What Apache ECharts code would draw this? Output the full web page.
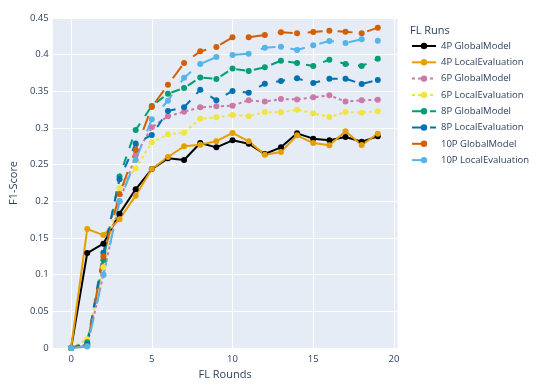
<!DOCTYPE html>
<html>
<head>
<meta charset="utf-8">
<script src="https://cdn.jsdelivr.net/npm/echarts@6/dist/echarts.min.js"></script>
<style>
html,body{margin:0;padding:0;background:#fff;}
#chart{width:540px;height:386px;}
</style>
</head>
<body>
<div id="chart"></div>
<script>
var rounds = [0,1,2,3,4,5,6,7,8,9,10,11,12,13,14,15,16,17,18,19];
var xTicks = [0,5,10,15,20];
var yTicks = [0,0.05,0.1,0.15,0.2,0.25,0.3,0.35,0.4,0.45];

var g4 = [0, 0.1295, 0.1423, 0.1832, 0.2164, 0.244, 0.2586, 0.2564, 0.2795, 0.2736, 0.2832, 0.2786, 0.2645, 0.2736, 0.2927, 0.2855, 0.2832, 0.2877, 0.2814, 0.2886];
var l4 = [0, 0.1623, 0.154, 0.1755, 0.2077, 0.244, 0.2605, 0.275, 0.2773, 0.282, 0.2932, 0.2818, 0.2636, 0.2673, 0.29, 0.2795, 0.2764, 0.2955, 0.2768, 0.2923];
var g6 = [0, 0.005, 0.10, 0.20, 0.263, 0.301, 0.3159, 0.3223, 0.3282, 0.3295, 0.3305, 0.3377, 0.336, 0.3395, 0.339, 0.3418, 0.3445, 0.336, 0.3377, 0.3386];
var l6 = [0, 0.012, 0.11, 0.218, 0.245, 0.2805, 0.2914, 0.2936, 0.3127, 0.3145, 0.3177, 0.316, 0.3218, 0.3214, 0.325, 0.32, 0.315, 0.3218, 0.3209, 0.3227];
var g8 = [0, 0.008, 0.12, 0.234, 0.2973, 0.33, 0.3468, 0.3545, 0.369, 0.3668, 0.381, 0.3777, 0.3827, 0.3918, 0.3886, 0.3845, 0.3932, 0.3873, 0.3845, 0.3945];
var l8 = [0, 0.005, 0.13, 0.23, 0.279, 0.2905, 0.3232, 0.3282, 0.3523, 0.3377, 0.3505, 0.3482, 0.3605, 0.3641, 0.3677, 0.3614, 0.3673, 0.3673, 0.36, 0.3655];
var g10 = [0, 0.003, 0.125, 0.21, 0.27, 0.3286, 0.359, 0.3886, 0.4045, 0.4105, 0.4236, 0.4236, 0.4268, 0.4305, 0.4291, 0.4309, 0.4327, 0.4314, 0.4291, 0.4368];
var l10 = [0, 0.002, 0.10, 0.20, 0.2564, 0.312, 0.3373, 0.3686, 0.3873, 0.3968, 0.3995, 0.4014, 0.4095, 0.4109, 0.4064, 0.4127, 0.4186, 0.4159, 0.4209, 0.4191];

var runNames = ['4P GlobalModel','4P LocalEvaluation','6P GlobalModel','6P LocalEvaluation','8P GlobalModel','8P LocalEvaluation','10P GlobalModel','10P LocalEvaluation'];
var runValues = [g4, l4, g6, l6, g8, l8, g10, l10];
var runColors = ['#000000','#E69F00','#CC79A7','#F0E442','#009E73','#0072B2','#D55E00','#56B4E9'];
var runDash = ['solid','solid',[3,3],[3,3],[9,9],[9,9],[15,15],[15,15]];

var font = '"Open Sans", Verdana, Arial, sans-serif';
var txt = '#2a3f5f';

var series = runNames.map(function(name, i){
  return {
    name: name,
    type: 'line',
    data: rounds.map(function(r, k){ return [r, runValues[i][k]]; }),
    symbol: 'circle',
    symbolSize: 6,
    showSymbol: true,
    color: runColors[i],
    lineStyle: {width: 2, type: runDash[i], color: runColors[i]},
    itemStyle: {color: runColors[i]},
    emphasis: {disabled: true},
    animation: false
  };
});

var chart = echarts.init(document.getElementById('chart'), null, {renderer: 'canvas'});
chart.setOption({
  animation: false,
  backgroundColor: '#ffffff',
  title: {
    text: 'FL Runs', left: 405, top: 20,
    textStyle: {fontFamily: font, fontSize: 11, fontWeight: 'normal', color: txt}
  },
  legend: {
    orient: 'vertical', left: 406, top: 36,
    itemWidth: 24, itemHeight: 8, itemGap: 6.3,
    textStyle: {fontFamily: font, fontSize: 9.5, color: txt},
    data: runNames
  },
  grid: {left: 52, right: 142.5, top: 18, bottom: 38, containLabel: false,
    show: true, backgroundColor: '#E5ECF6', borderWidth: 0},
  xAxis: {
    type: 'value', min: -1.14, max: 20.22,
    name: 'FL Rounds', nameLocation: 'middle', nameGap: 20,
    nameTextStyle: {fontFamily: font, fontSize: 11, color: txt},
    axisLine: {show: false}, axisTick: {show: false, customValues: xTicks},
    axisLabel: {customValues: xTicks, fontFamily: font, fontSize: 9.5, color: txt, margin: 6},
    splitLine: {show: true, lineStyle: {color: '#ffffff', width: 1}}
  },
  yAxis: {
    type: 'value', min: 0, max: 0.45, interval: 0.05,
    name: 'F1-Score', nameLocation: 'middle', nameGap: 33,
    nameTextStyle: {fontFamily: font, fontSize: 11, color: txt},
    axisLine: {show: false}, axisTick: {show: false},
    axisLabel: {fontFamily: font, fontSize: 9.5, color: txt, margin: 4},
    splitLine: {show: true, lineStyle: {color: '#ffffff', width: 1}}
  },
  series: series
});
</script>
</body>
</html>
